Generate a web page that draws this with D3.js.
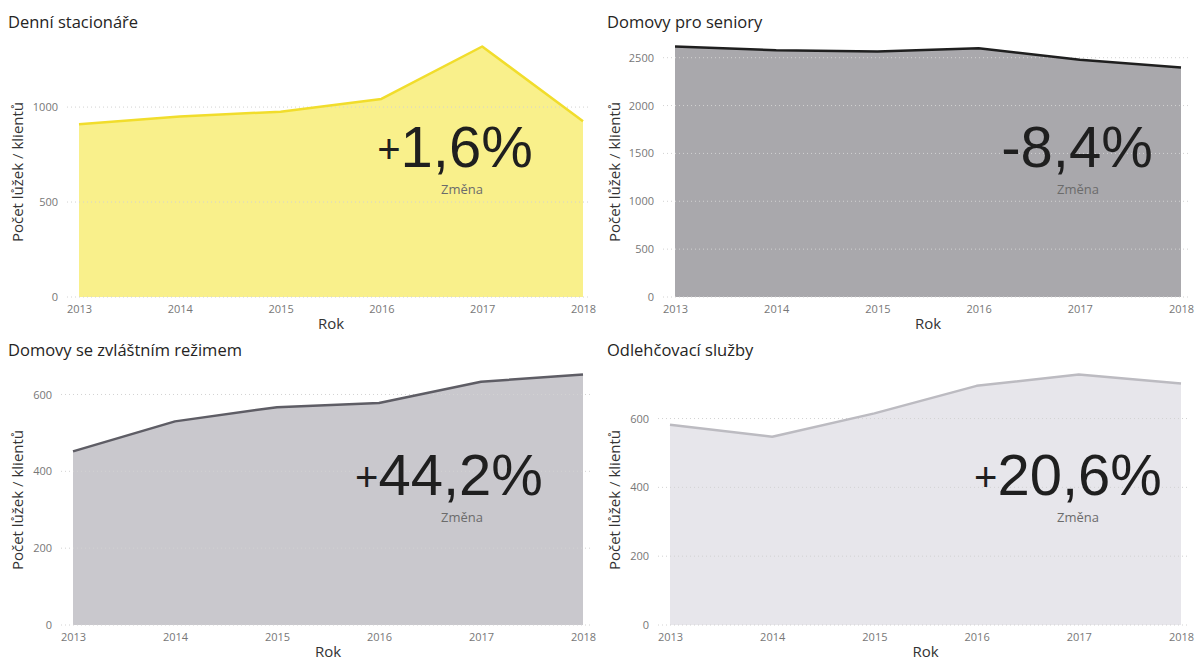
<!DOCTYPE html>
<html lang="cs">
<head>
<meta charset="utf-8">
<script src="https://cdn.jsdelivr.net/npm/d3@7"></script>
<style>
  html, body { margin: 0; padding: 0; background: #ffffff; }
  svg { display: block; font-family: "Open Sans", "Noto Sans", sans-serif; }
</style>
</head>
<body>
<svg id="chart" width="1196" height="661"></svg>
<script>
// Roky na ose x
const years = [2013, 2014, 2015, 2016, 2017, 2018];

// Názvy jednotlivých služeb
const panelTitles = [
  "Denní stacionáře",
  "Domovy pro seniory",
  "Domovy se zvláštním režimem",
  "Odlehčovací služby"
];

// Počet lůžek / klientů v jednotlivých letech
const denniStacionare = [910, 950, 976, 1043, 1319, 925];
const domovyProSeniory = [2617, 2578, 2564, 2599, 2478, 2397];
const domovyZvlastniRezim = [452, 530, 567, 578, 633, 652];
const odlehcovaciSluzby = [582, 547, 615, 695, 728, 702];

// Popisky osy y
const yTicksDenni = [0, 500, 1000];
const yTicksSeniori = [0, 500, 1000, 1500, 2000, 2500];
const yTicksRezim = [0, 200, 400, 600];
const yTicksOdlehcovaci = [0, 200, 400, 600];

const xAxisTitle = "Rok";
const yAxisTitle = "Počet lůžek / klientů";
const changeLabel = "Změna";

// Barvy ploch a čar
const fillColors = ["#f9f08b", "#a9a8ac", "#c9c8cd", "#e7e6eb"];
const lineColors = ["#f1dd2c", "#1f1f1f", "#5e5d65", "#bcbbc1"];

const seriesList = [denniStacionare, domovyProSeniory, domovyZvlastniRezim, odlehcovaciSluzby];
const tickList = [yTicksDenni, yTicksSeniori, yTicksRezim, yTicksOdlehcovaci];

// Rozložení panelů (2 × 2)
const layout = [
  { col: 0,   row: 0,   left: 79, valueX: 455, changeX: 462 },
  { col: 598, row: 0,   left: 77, valueX: 479, changeX: 480 },
  { col: 0,   row: 328, left: 73, valueX: 449, changeX: 462 },
  { col: 598, row: 328, left: 72, valueX: 470, changeX: 480 }
];

const csLocale = d3.formatLocale({ decimal: ",", thousands: " ", grouping: [3], currency: ["", " Kč"] });
const fmtPct = csLocale.format(".1f");

const svg = d3.select("#chart");

seriesList.forEach((values, i) => {
  const L = layout[i];
  const g = svg.append("g").attr("transform", `translate(${L.col},${L.row})`);
  const plotTop = 46.5, plotBottom = 297, plotRight = 583;

  const x = d3.scaleLinear().domain(d3.extent(years)).range([L.left, plotRight]);
  const y = d3.scaleLinear().domain([0, d3.max(values)]).range([plotBottom, plotTop]);
  const pts = years.map((yr, k) => ({ year: yr, value: values[k] }));

  // Název panelu
  g.append("text")
    .attr("x", i % 2 === 0 ? 8 : 9)
    .attr("y", 28)
    .style("font-size", "16.5px")
    .attr("fill", "#252423")
    .text(panelTitles[i]);

  // Plocha
  g.append("path")
    .datum(pts)
    .attr("fill", fillColors[i])
    .attr("d", d3.area().x(d => x(d.year)).y0(y(0)).y1(d => y(d.value)));

  // Mřížka
  g.append("g")
    .selectAll("line")
    .data(tickList[i])
    .join("line")
    .attr("x1", L.left - 12)
    .attr("x2", 590)
    .attr("y1", d => y(d))
    .attr("y2", d => y(d))
    .attr("stroke", "#d2d2d2")
    .attr("stroke-width", 1)
    .attr("stroke-dasharray", "1,3");

  // Čára
  g.append("path")
    .datum(pts)
    .attr("fill", "none")
    .attr("stroke", lineColors[i])
    .attr("stroke-width", 2.5)
    .attr("stroke-linejoin", "round")
    .attr("d", d3.line().x(d => x(d.year)).y(d => y(d.value)));

  // Osa y
  const yAxis = g.append("g")
    .attr("transform", `translate(${L.left},0)`)
    .call(d3.axisLeft(y).tickValues(tickList[i]).tickFormat(d3.format("d")).tickSize(0).tickPadding(21));
  yAxis.select(".domain").remove();
  yAxis.attr("font-family", null).attr("font-size", null);
  yAxis.selectAll("text").style("font-size", "11px").attr("fill", "#777");

  // Osa x
  const xAxis = g.append("g")
    .attr("transform", `translate(0,${plotBottom})`)
    .call(d3.axisBottom(x).tickValues(years).tickFormat(d3.format("d")).tickSize(0).tickPadding(8));
  xAxis.select(".domain").remove();
  xAxis.attr("font-family", null).attr("font-size", null);
  xAxis.selectAll("text").style("font-size", "11px").attr("fill", "#777");

  // Popisky os
  g.append("text")
    .attr("x", (L.left + plotRight) / 2)
    .attr("y", 329)
    .attr("text-anchor", "middle")
    .style("font-size", "15px")
    .attr("fill", "#333")
    .text(xAxisTitle);

  g.append("text")
    .attr("transform", `translate(${i % 2 === 0 ? 23 : 22},172) rotate(-90)`)
    .attr("text-anchor", "middle")
    .style("font-size", "15px")
    .attr("fill", "#333")
    .text(yAxisTitle);

  // Procentní změna mezi prvním a posledním rokem
  const pct = (values[values.length - 1] / values[0] - 1) * 100;
  const sign = pct >= 0 ? "+" : "-";
  const big = g.append("text")
    .attr("x", L.valueX)
    .attr("y", 167)
    .attr("text-anchor", "middle")
    .style("font-family", "'Liberation Sans', Arial, sans-serif")
    .style("font-size", "58px")
    .attr("fill", "#1f1f1f");
  if (sign === "+") {
    big.append("tspan").style("font-size", "40px").attr("dy", -4).text(sign);
    big.append("tspan").attr("dy", 4).text(fmtPct(Math.abs(pct)) + "%");
  } else {
    big.append("tspan").text(sign + fmtPct(Math.abs(pct)) + "%");
  }

  g.append("text")
    .attr("x", L.changeX)
    .attr("y", 194)
    .attr("text-anchor", "middle")
    .style("font-size", "13px")
    .attr("fill", "#6b6b6b")
    .text(changeLabel);
});
</script>
</body>
</html>
